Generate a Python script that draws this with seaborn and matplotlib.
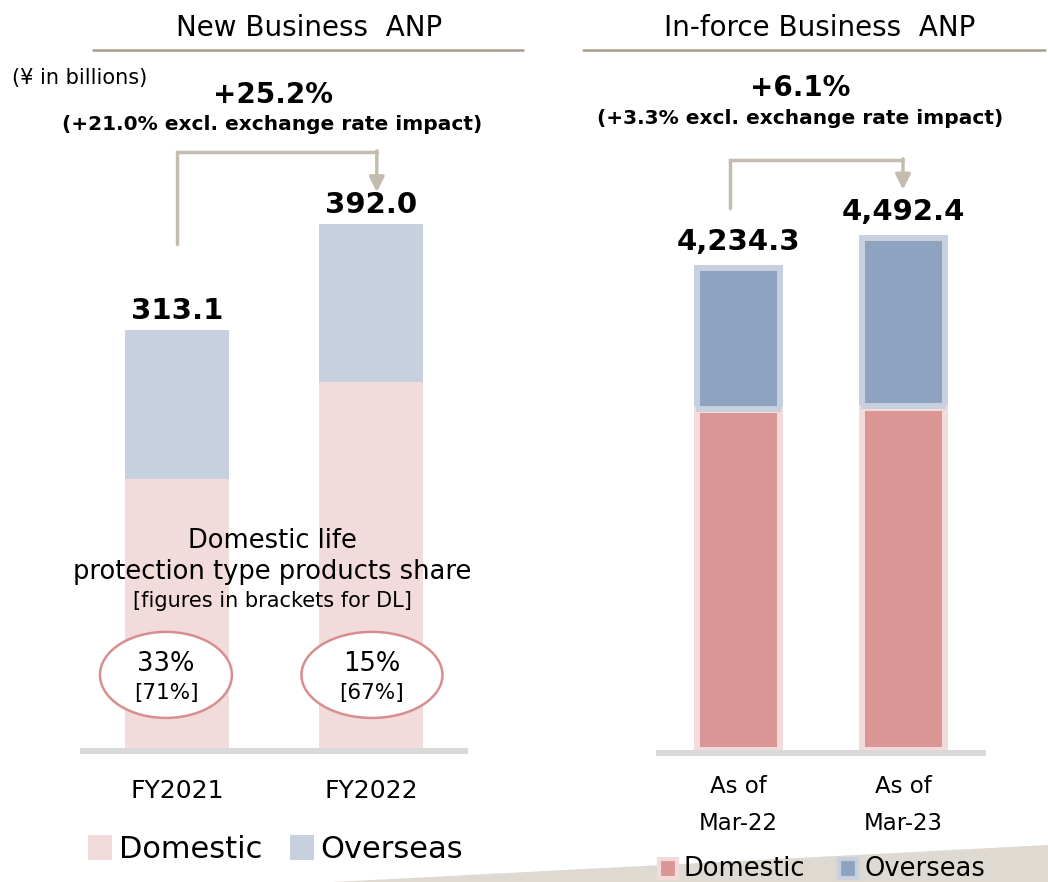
import seaborn as sns
import matplotlib.pyplot as plt
from matplotlib.patches import Ellipse, Polygon, Rectangle
from matplotlib.lines import Line2D

# Datos (miles de millones de yenes)
new_labels = ['FY2021', 'FY2022']
new_total = [313.1, 392.0]
new_domestic = [201.5, 273.6]
new_growth = '+25.2%'
new_growth_fx = '(+21.0% excl. exchange rate impact)'
share_all = ['33%', '15%']
share_dl = ['[71%]', '[67%]']

inforce_labels = ['As of\nMar-22', 'As of\nMar-23']
inforce_total = [4234.3, 4492.4]
inforce_domestic = [2985.0, 3005.0]
inforce_growth = '+6.1%'
inforce_growth_fx = '(+3.3% excl. exchange rate impact)'

# Colores
pink_light = '#F2DCDB'
blue_light = '#C6D0DF'
pink_dark = '#D99694'
blue_dark = '#8EA3BF'
base_gray = '#D9D9D9'
tan = '#C4BCAE'
tan_dark = '#A69D8A'

sns.set_style('white')
plt.rcParams['font.family'] = ['DejaVu Sans']
plt.rcParams['text.color'] = 'black'
plt.rcParams['xtick.color'] = 'black'

W, H = 1048, 882
fig = plt.figure(figsize=(W / 100, H / 100), dpi=100)


def fx(x):
    return x / W


def fy(y):
    return 1 - y / H


# ---- Panel izquierdo: New Business ANP ----
ax1 = fig.add_axes([fx(80), fy(754), 388 / W, 694 / H])
sns.barplot(x=new_labels, y=new_total, color=blue_light, saturation=1,
            width=0.54, linewidth=0, ax=ax1)
sns.barplot(x=new_labels, y=new_domestic, color=pink_light, saturation=1,
            width=0.54, linewidth=0, ax=ax1)
ax1.set_xlim(-0.5, 1.5)
ax1.set_ylim(-4.5, 515)
ax1.axhline(-2.25, color=base_gray, lw=4.3, zorder=5)
for i, v in enumerate(new_total):
    ax1.annotate(f'{v:,.1f}', (i, v), xytext=(0, 8), textcoords='offset points',
                 ha='center', va='baseline', fontsize=21, fontweight='bold')

# flecha de crecimiento
ax1.plot([0, 0, 1.03], [377, 446, 446], color=tan, lw=2.5, clip_on=False,
         solid_joinstyle='miter')
ax1.annotate('', xy=(1.03, 416), xytext=(1.03, 447),
             arrowprops=dict(arrowstyle='-|>,head_width=0.45,head_length=0.9',
                             color=tan, lw=2.5, shrinkA=0, shrinkB=0),
             annotation_clip=False)

# ovalos de participacion
for i, (a, b) in enumerate(zip(share_all, share_dl)):
    cx = i - 0.057 if i == 0 else i + 0.005
    ax1.add_patch(Ellipse((cx, 54.7), 0.68 + 0.047 * i, 64.4, facecolor='white',
                          edgecolor='#D88E8E', lw=1.8, zorder=3))
    ax1.text(cx, 62.5, a, ha='center', va='center', fontsize=18.5, zorder=4)
    ax1.text(cx, 41.5, b, ha='center', va='center', fontsize=15.5, zorder=4)

ax1.set_ylabel('')
ax1.set_yticks([])
ax1.tick_params(axis='x', length=0, pad=18, labelsize=18)
sns.despine(ax=ax1, left=True, bottom=True)

# ---- Panel derecho: In-force Business ANP ----
ax2 = fig.add_axes([fx(656), fy(756), 330 / W, 696 / H])
sns.barplot(x=inforce_labels, y=inforce_total, color=blue_dark, saturation=1,
            width=0.497, edgecolor=blue_light, linewidth=4.3, ax=ax2)
sns.barplot(x=inforce_labels, y=inforce_domestic, color=pink_dark, saturation=1,
            width=0.497, edgecolor=pink_light, linewidth=4.3, ax=ax2)
ax2.set_xlim(-0.5, 1.5)
ax2.set_ylim(-52.7, 6058)
for p, v in zip(ax2.patches[2:], inforce_domestic):
    ax2.hlines(v + 13, p.get_x() - 0.01, p.get_x() + p.get_width() + 0.01,
               color=blue_light, lw=4.3, zorder=3)
ax2.axhline(-26, color=base_gray, lw=4.3, zorder=5)
for i, v in enumerate(inforce_total):
    ax2.annotate(f'{v:,.1f}', (i, v), xytext=(0, 13), textcoords='offset points',
                 ha='center', va='baseline', fontsize=21, fontweight='bold')

ax2.plot([-0.052, -0.052, 0.997], [4759, 5180, 5180], color=tan, lw=2.5,
         clip_on=False, solid_joinstyle='miter')
ax2.annotate('', xy=(0.997, 4920), xytext=(0.997, 5190),
             arrowprops=dict(arrowstyle='-|>,head_width=0.45,head_length=0.9',
                             color=tan, lw=2.5, shrinkA=0, shrinkB=0),
             annotation_clip=False)

ax2.set_ylabel('')
ax2.set_yticks([])
ax2.tick_params(axis='x', length=0, pad=14, labelsize=16.5)
for t in ax2.get_xticklabels():
    t.set_linespacing(1.75)
sns.despine(ax=ax2, left=True, bottom=True)

# ---- Titulos y textos ----
fig.text(fx(309), fy(28), 'New Business  ANP', ha='center', va='center', fontsize=20)
fig.text(fx(820), fy(28), 'In-force Business  ANP', ha='center', va='center', fontsize=20)
fig.add_artist(Line2D([fx(93), fx(523)], [fy(50), fy(50)], color=tan_dark, lw=1.8))
fig.add_artist(Line2D([fx(583), fx(1045)], [fy(50), fy(50)], color=tan_dark, lw=1.8))

fig.text(fx(12), fy(78), '(¥ in billions)', ha='left', va='center', fontsize=15)
fig.text(fx(273), fy(95), new_growth, ha='center', va='center', fontsize=20, fontweight='bold')
fig.text(fx(272), fy(125), new_growth_fx, ha='center', va='center', fontsize=14.5,
         fontweight='bold')
fig.text(fx(800), fy(88), inforce_growth, ha='center', va='center', fontsize=20,
         fontweight='bold')
fig.text(fx(800), fy(118), inforce_growth_fx, ha='center', va='center', fontsize=14.5,
         fontweight='bold')

fig.text(fx(272), fy(541), 'Domestic life', ha='center', va='center', fontsize=18.5, zorder=5)
fig.text(fx(272), fy(572), 'protection type products share', ha='center', va='center',
         fontsize=18.5, zorder=5)
fig.text(fx(272), fy(601), '[figures in brackets for DL]', ha='center', va='center',
         fontsize=15, zorder=5)

# fondo decorativo inferior
fig.add_artist(Polygon([(fx(333), fy(882)), (fx(1048), fy(845)), (fx(1048), fy(882))],
                       closed=True, facecolor='#DEDAD2', edgecolor='none', zorder=0))

# leyendas
fig.add_artist(Rectangle((fx(88), fy(860)), 24 / W, 25 / H, facecolor=pink_light,
                         edgecolor='none'))
fig.text(fx(119), fy(849), 'Domestic', ha='left', va='center', fontsize=22)
fig.add_artist(Rectangle((fx(290), fy(860)), 24 / W, 25 / H, facecolor=blue_light,
                         edgecolor='none'))
fig.text(fx(320), fy(849), 'Overseas', ha='left', va='center', fontsize=22)

fig.add_artist(Rectangle((fx(659), fy(878)), 18 / W, 19 / H, facecolor=pink_dark,
                         edgecolor=pink_light, lw=3))
fig.text(fx(684), fy(869), 'Domestic', ha='left', va='center', fontsize=18.5)
fig.add_artist(Rectangle((fx(839), fy(878)), 18 / W, 19 / H, facecolor=blue_dark,
                         edgecolor=blue_light, lw=3))
fig.text(fx(864), fy(869), 'Overseas', ha='left', va='center', fontsize=18.5)

fig.savefig('out.png', dpi=100)
